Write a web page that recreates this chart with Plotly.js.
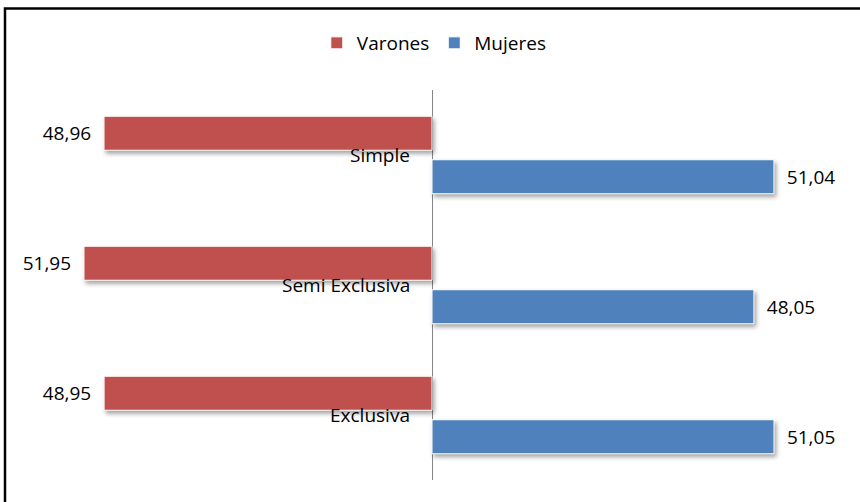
<!DOCTYPE html>
<html>
<head>
<meta charset="utf-8">
<script src="https://cdn.plot.ly/plotly-3.0.1.min.js"></script>
<style>
  html, body { margin: 0; padding: 0; background: #fff; }
  #chart { width: 860px; height: 502px; }
  #chart .barlayer .point path { filter: drop-shadow(2px 3px 2px rgba(0,0,0,0.35)); }
</style>
</head>
<body>
<div id="chart"></div>
<script>
const categories = ["Simple", "Semi Exclusiva", "Exclusiva"];
const seriesNames = ["Varones", "Mujeres"];
const varones = [48.96, 51.95, 48.95];
const mujeres = [51.04, 48.05, 51.05];

const FONT = "Open Sans, sans-serif";
const NB = "\u00a0\u00a0";

const traces = [
  {
    type: "bar",
    orientation: "h",
    name: seriesNames[0],
    y: categories,
    x: varones.map(v => -v),
    customdata: varones,
    texttemplate: "%{customdata:.2f}" + NB,
    textposition: "outside",
    cliponaxis: false,
    textfont: { family: FONT, size: 19, color: "#000" },
    marker: { color: "#C0504D", line: { color: "#ffffff", width: 1 } },
    hoverinfo: "skip"
  },
  {
    type: "bar",
    orientation: "h",
    name: seriesNames[1],
    y: categories,
    x: mujeres,
    customdata: mujeres,
    texttemplate: NB + "%{customdata:.2f}",
    textposition: "outside",
    cliponaxis: false,
    textfont: { family: FONT, size: 19, color: "#000" },
    marker: { color: "#4F81BD", line: { color: "#ffffff", width: 1 } },
    hoverinfo: "skip"
  }
];

const annotations = categories.map(c => ({
  x: 0, y: c, xref: "x", yref: "y",
  text: c, showarrow: false,
  xanchor: "right", yanchor: "middle", xshift: -20,
  font: { family: FONT, size: 19, color: "#000" }
}));

const layout = {
  width: 860, height: 502,
  margin: { l: 20, r: 20, t: 90, b: 22, pad: 0 },
  paper_bgcolor: "#ffffff",
  plot_bgcolor: "#ffffff",
  separators: ",.",
  barmode: "group",
  bargap: 0.331,
  bargroupgap: 0.218,
  font: { family: FONT, size: 19, color: "#000" },
  showlegend: true,
  legend: {
    orientation: "h",
    xref: "container", yref: "container",
    x: 0.505, xanchor: "center",
    y: 1 - 43 / 502, yanchor: "middle",
    font: { family: FONT, size: 19, color: "#000" },
    traceorder: "normal",
    itemwidth: 30
  },
  xaxis: {
    range: [-61.5, 60.9],
    showgrid: false,
    showticklabels: false,
    ticks: "",
    showline: false,
    zeroline: true,
    zerolinecolor: "#868686",
    zerolinewidth: 1,
    fixedrange: true
  },
  yaxis: {
    type: "category",
    autorange: "reversed",
    showgrid: false,
    showticklabels: false,
    ticks: "",
    showline: false,
    zeroline: false,
    fixedrange: true
  },
  annotations: annotations,
  shapes: [{
    type: "rect", xref: "paper", yref: "paper",
    x0: (5 - 20) / 820, x1: 1.2,
    y0: -0.3, y1: (480 - 8.5) / 390,
    line: { color: "#000000", width: 2.5 },
    fillcolor: "rgba(0,0,0,0)",
    layer: "above"
  }]
};

Plotly.newPlot("chart", traces, layout, { displayModeBar: false, staticPlot: true });
</script>
</body>
</html>
